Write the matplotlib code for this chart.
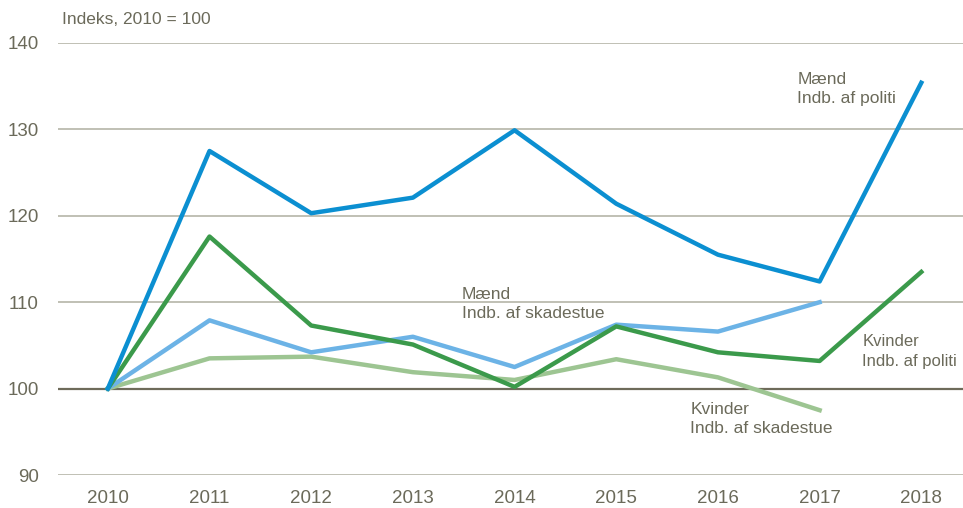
import matplotlib
matplotlib.use("Agg")
import matplotlib.pyplot as plt
from matplotlib import font_manager

years = ["2010", "2011", "2012", "2013", "2014", "2015", "2016", "2017", "2018"]
maend_politi = [100, 127.5, 120.3, 122.1, 129.9, 121.4, 115.5, 112.4, 135.4]
kvinder_politi = [100, 117.6, 107.3, 105.1, 100.2, 107.2, 104.2, 103.2, 113.5]
maend_skadestue = [100, 107.9, 104.2, 106.0, 102.5, 107.4, 106.6, 110.0]
kvinder_skadestue = [100, 103.5, 103.7, 101.9, 101.0, 103.4, 101.3, 97.5]
yticks = [90, 100, 110, 120, 130, 140]

names = {f.name for f in font_manager.fontManager.ttflist}
fam = "Liberation Sans Narrow" if "Liberation Sans Narrow" in names else "Liberation Sans"
plt.rcParams['font.family'] = [fam, 'DejaVu Sans']

txt = "#6b6a5a"
fig = plt.figure(figsize=(9.63, 5.08), dpi=100)
ax = fig.add_axes([58/963, 1-475/508, 1-58/963, (475-43)/508])

for v in yticks:
    if v == 100:
        ax.axhline(v, color="#6e6b5a", lw=1.6, zorder=1)
    else:
        ax.axhline(v, color="#b5b5a8", lw=1.2, zorder=1)

x = list(range(len(years)))
ax.plot(x[:len(kvinder_skadestue)], kvinder_skadestue, color="#9dc592", lw=3.2, zorder=2)
ax.plot(x[:len(maend_skadestue)], maend_skadestue, color="#6cb3e6", lw=3.2, zorder=3)
ax.plot(x, kvinder_politi, color="#3b9a4b", lw=3.2, zorder=4)
ax.plot(x, maend_politi, color="#0b8fd1", lw=3.2, zorder=5)

ax.set_xlim(-0.49, 8.41)
ax.set_ylim(90, 140)
ax.set_yticks(yticks)
ax.set_xticks(x)
ax.set_xticklabels(years)
for s in ax.spines.values():
    s.set_visible(False)
ax.tick_params(axis='both', length=0, labelsize=13.5, labelcolor=txt)
ax.tick_params(axis='y', pad=14)
ax.tick_params(axis='x', pad=11)

fs = 12.5
ax.text(6.78, 134.7, "Mænd\nIndb. af politi", fontsize=fs, color=txt, va='center', ha='left', linespacing=1.35)
ax.text(3.48, 109.8, "Mænd\nIndb. af skadestue", fontsize=fs, color=txt, va='center', ha='left', linespacing=1.35)
ax.text(7.42, 104.3, "Kvinder\nIndb. af politi", fontsize=12, color=txt, va='center', ha='left', linespacing=1.4)
ax.text(5.73, 96.5, "Kvinder\nIndb. af skadestue", fontsize=fs, color=txt, va='center', ha='left', linespacing=1.35)
fig.text(62/963, 1-20/508, "Indeks, 2010 = 100", fontsize=fs, color=txt, va='center', ha='left')

fig.savefig("out.png", dpi=100)
